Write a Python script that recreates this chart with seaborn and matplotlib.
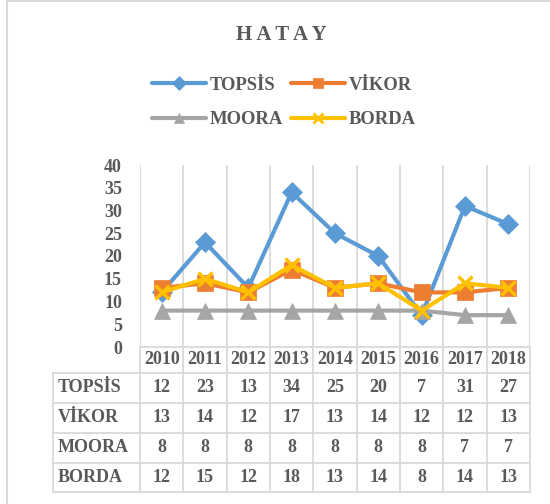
import numpy as np
import pandas as pd
import matplotlib
matplotlib.use("Agg")
import matplotlib.pyplot as plt
import seaborn as sns
from matplotlib.lines import Line2D
from matplotlib.patches import Rectangle
import matplotlib.transforms as mtransforms

# ---- data ----
years = ["2010", "2011", "2012", "2013", "2014", "2015", "2016", "2017", "2018"]
topsis = [12, 23, 13, 34, 25, 20, 7, 31, 27]
vikor = [13, 14, 12, 17, 13, 14, 12, 12, 13]
moora = [8, 8, 8, 8, 8, 8, 8, 7, 7]
borda = [12, 15, 12, 18, 13, 14, 8, 14, 13]
series_names = ["TOPSİS", "VİKOR", "MOORA", "BORDA"]
y_ticks = [0, 5, 10, 15, 20, 25, 30, 35, 40]
title = "HATAY"

colors = ["#5B9BD5", "#ED7D31", "#A5A5A5", "#FFC000"]
markers = ["D", "s", "^", "x"]
msizes = [10, 11, 11, 10]
text_color = "#595959"
grid_color = "#D9D9D9"

W, H = 550, 504
sns.set_theme(style="white")
plt.rcParams["font.family"] = ["Liberation Serif", "DejaVu Serif"]
plt.rcParams["font.weight"] = "bold"

fig = plt.figure(figsize=(5.5, 5.04), dpi=100)
fig.patch.set_facecolor("white")


def fx(px):
    return px / W


def fy(py):
    return 1 - py / H


ax = fig.add_axes([fx(140), fy(347), fx(530) - fx(140), fy(165) - fy(347)])
ax.set_facecolor("white")

all_vals = [topsis, vikor, moora, borda]
df = pd.DataFrame({
    "x": np.tile(np.arange(len(years)), len(series_names)),
    "value": np.concatenate(all_vals),
    "method": np.repeat(series_names, len(years)),
})

for name, c, m, ms in zip(series_names, colors, markers, msizes):
    sub = df[df["method"] == name]
    kw = dict(markeredgecolor=c, markerfacecolor=c)
    kw["markeredgewidth"] = 2.5 if m == "x" else 0.5
    sns.lineplot(data=sub, x="x", y="value", color=c, marker=m, markersize=ms,
                 linewidth=3, ax=ax, legend=False, zorder=3, **kw)

ax.set_xlim(-0.5, len(years) - 0.5)
ax.set_ylim(0, 40)
ax.set_xticks([])
ax.set_yticks(y_ticks)
ax.set_yticklabels([str(t) for t in y_ticks], fontsize=13, fontweight="bold", color=text_color)
ax.tick_params(axis="y", length=0, pad=13)
ax.set_xlabel("")
ax.set_ylabel("")
for s in ax.spines.values():
    s.set_visible(False)

bounds = np.arange(-0.5, len(years), 1.0)
for b in bounds:
    ax.axvline(b, color=grid_color, lw=1.3, zorder=0)

# ---- data table ----
trans = mtransforms.blended_transform_factory(ax.transData, fig.transFigure)
lkw = dict(color=grid_color, lw=1.3)
for b in bounds:
    fig.add_artist(Line2D([b, b], [fy(347), fy(492)], transform=trans, **lkw))
fig.add_artist(Line2D([fx(53), fx(53)], [fy(373), fy(492)], transform=fig.transFigure, **lkw))
fig.add_artist(Line2D([fx(140), fx(530)], [fy(347), fy(347)], transform=fig.transFigure, **lkw))
for yy in [373, 403, 433, 463, 492]:
    fig.add_artist(Line2D([fx(53), fx(530)], [fy(yy), fy(yy)], transform=fig.transFigure, **lkw))

tkw = dict(fontsize=13, fontweight="bold", color=text_color, va="center")
for i, yr in enumerate(years):
    fig.text(i, fy(360), yr, transform=trans, ha="center", **tkw)
row_centers = [388, 418, 448, 477.5]
for name, vals, rc in zip(series_names, all_vals, row_centers):
    fig.text(fx(58), fy(rc), name, ha="left", **tkw)
    for i, v in enumerate(vals):
        fig.text(i, fy(rc), str(v), transform=trans, ha="center", **tkw)

# ---- title ----
fig.text(fx(281), fy(35), " ".join(title), ha="center", va="center",
         fontsize=15, fontweight="bold", color=text_color)

# ---- legend (row-wise order: TOPSİS VİKOR / MOORA BORDA) ----
handles = [Line2D([], [], color=c, marker=m, lw=3, markersize=ms * 0.7,
                  markeredgecolor=c, markeredgewidth=(2 if m == "x" else 0.5))
           for c, m, ms in zip(colors, markers, msizes)]
order = [0, 2, 1, 3]
leg = fig.legend([handles[i] for i in order], [series_names[i] for i in order],
                 ncol=2, loc="center",
                 bbox_to_anchor=(fx(284), fy(102.5)), frameon=False,
                 handlelength=2.9, handletextpad=0.2, columnspacing=0.45,
                 labelspacing=0.95,
                 prop={"family": ["Liberation Serif", "DejaVu Serif"], "weight": "bold", "size": 13.4})
for t in leg.get_texts():
    t.set_color(text_color)

# ---- outer chart frame ----
fig.add_artist(Rectangle((fx(7), fy(530)), fx(580) - fx(7), fy(1) - fy(530),
                         transform=fig.transFigure, fill=False, ec=grid_color, lw=1.5))

fig.savefig("out.png", dpi=100, facecolor="white")
